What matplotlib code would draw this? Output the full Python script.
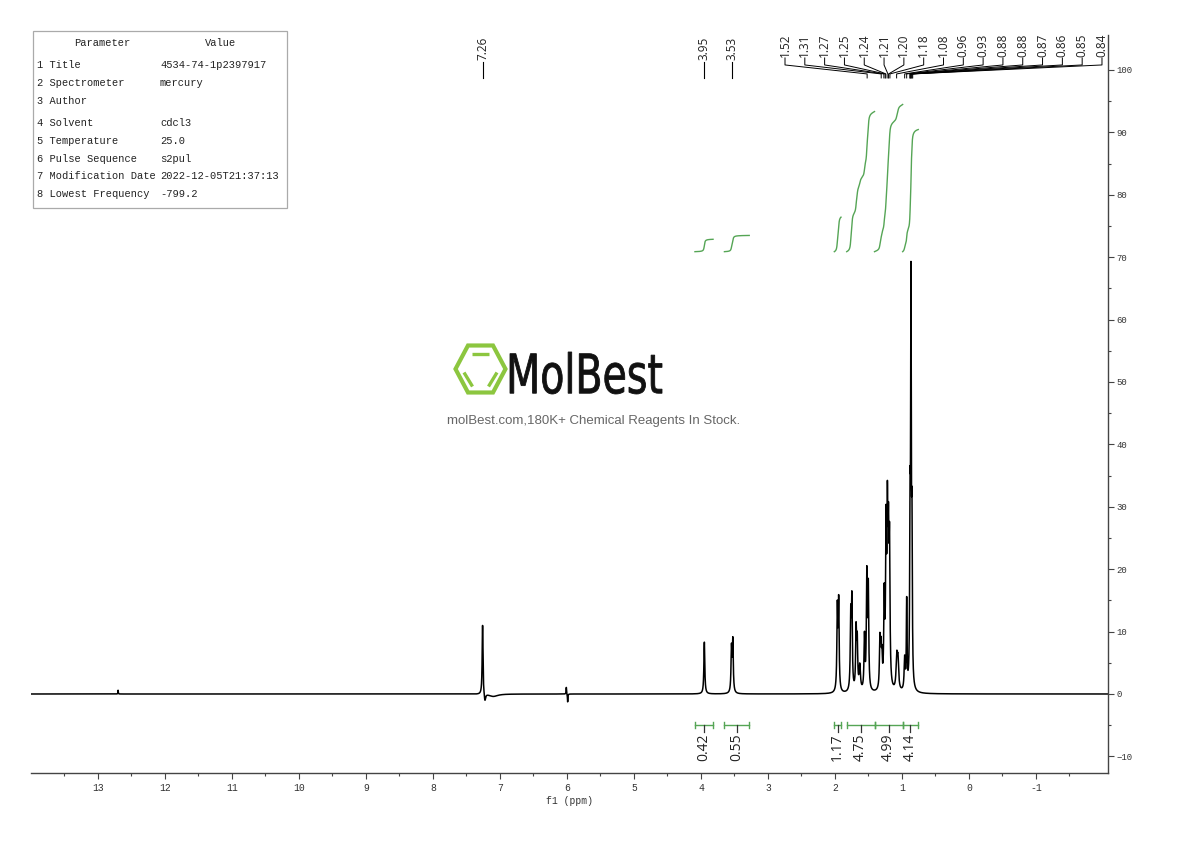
import numpy as np
import matplotlib
matplotlib.use("Agg")
import matplotlib.pyplot as plt
from matplotlib.patches import Rectangle, Polygon, PathPatch
from matplotlib.textpath import TextPath
from matplotlib.font_manager import FontProperties
from matplotlib.transforms import Affine2D

# ---------------- data ----------------
peak_ppm = [7.26, 3.95, 3.545, 3.525, 1.965, 1.945, 1.765, 1.748, 1.685, 1.668,
            1.630, 1.560, 1.525, 1.503, 1.330, 1.315, 1.300, 1.265, 1.238, 1.218,
            1.202, 1.186, 1.078, 1.060, 0.960, 0.930, 0.880, 0.866, 0.851]
peak_height = [11.2, 8.3, 7.0, 8.2, 13.0, 14.0, 11.5, 14.0, 9.5, 7.5,
               4.0, 8.5, 18.0, 16.0, 7.5, 5.5, 4.5, 14.0, 24.0, 25.0,
               20.0, 21.0, 5.0, 4.5, 5.0, 14.0, 25.0, 62.0, 23.0]
peak_hwhm = [0.007, 0.008, 0.008, 0.008, 0.008, 0.008, 0.008, 0.008, 0.008, 0.008,
             0.012, 0.008, 0.008, 0.008, 0.008, 0.008, 0.008, 0.008, 0.008, 0.008,
             0.008, 0.008, 0.012, 0.012, 0.009, 0.006, 0.006, 0.006, 0.006]

artifact_ppm = [7.225, 7.10, 6.01, 5.99, 12.70]
artifact_height = [-1.3, -0.4, 1.1, -1.3, 0.6]
artifact_hwhm = [0.012, 0.08, 0.004, 0.004, 0.003]

single_labels = ["7.26", "3.95", "3.53"]
single_ppm = [7.26, 3.95, 3.53]
cluster_labels = ["1.52", "1.31", "1.27", "1.25", "1.24", "1.21", "1.20", "1.18", "1.08",
                  "0.96", "0.93", "0.88", "0.88", "0.87", "0.86", "0.85", "0.84"]
cluster_ppm = [1.52, 1.31, 1.27, 1.25, 1.24, 1.21, 1.20, 1.18, 1.08,
               0.96, 0.93, 0.88, 0.88, 0.87, 0.86, 0.85, 0.84]

integral_from = [4.09, 3.65, 2.01, 1.825, 1.41, 0.99]
integral_to = [3.82, 3.28, 1.91, 1.41, 0.99, 0.757]
integral_values = [0.42, 0.55, 1.17, 4.75, 4.99, 4.14]

x_ticks = list(range(13, -2, -1))
y_ticks = list(range(-10, 101, 10))

param_names = ["1 Title", "2 Spectrometer", "3 Author", "4 Solvent", "5 Temperature",
               "6 Pulse Sequence", "7 Modification Date", "8 Lowest Frequency"]
param_values = ["4534-74-1p2397917", "mercury", "", "cdcl3", "25.0", "s2pul",
                "2022-12-05T21:37:13", "-799.2"]

# ---------------- figure ----------------
W, H = 1190, 841
fig = plt.figure(figsize=(W / 100, H / 100), dpi=100)
fig.patch.set_facecolor("white")

ax_l, ax_r, ax_t, ax_b = 31, 1108, 35, 773
ax = fig.add_axes([ax_l / W, 1 - ax_b / H, (ax_r - ax_l) / W, (ax_b - ax_t) / H])
ax.set_xlim(14.0, -2.075)
ax.set_ylim(-12.66, 105.6)

ppm = np.linspace(14.0, -2.075, 60000)
spec = np.zeros_like(ppm)
for p, h, w in zip(peak_ppm + artifact_ppm, peak_height + artifact_height,
                   peak_hwhm + artifact_hwhm):
    spec += h * w ** 2 / ((ppm - p) ** 2 + w ** 2)
ax.plot(ppm, spec, color="black", lw=1.1)

# integral curves and brackets
green = "#55a555"
int_base, int_scale = 70.88, 4.727
for a, b, v in zip(integral_from, integral_to, integral_values):
    m = (ppm <= a) & (ppm >= b)
    cum = np.cumsum(spec[m])
    cum = cum - cum[0]
    ax.plot(ppm[m], int_base + v * int_scale * cum / cum[-1], color=green, lw=1.0)
    yb = -4.97
    ax.plot([a, b], [yb, yb], color=green, lw=1.0, clip_on=False)
    for e in (a, b):
        ax.plot([e, e], [yb - 0.5, yb + 0.5], color=green, lw=1.0, clip_on=False)
    mid = (a + b) / 2
    ax.plot([mid, mid], [yb, -6.09], color="#333333", lw=0.9, clip_on=False)
    ax.text(mid, -6.35, f"{v:.2f}", rotation=90, ha="center", va="top",
            fontsize=10, family="Open Sans", color="#222222", clip_on=False)

# peak labels
lab_font = dict(rotation=90, ha="center", va="bottom", fontsize=8.5,
                family="Open Sans", color="#222222")
for s, p in zip(single_labels, single_ppm):
    ax.plot([p, p], [98.72, 101.28], color="black", lw=0.8, clip_on=False)
    ax.text(p, 101.6, s, **lab_font)

lab_start, lab_step = 2.746, 0.2957
for i, (s, p) in enumerate(zip(cluster_labels, cluster_ppm)):
    lx = lab_start - i * lab_step
    ax.plot([lx, lx, p, p], [101.92, 100.80, 99.36, 98.72], color="black",
            lw=0.7, clip_on=False)
    ax.text(lx, 102.0, s, **lab_font)

# axes styling
for sp in ("top", "left"):
    ax.spines[sp].set_visible(False)
for sp in ("right", "bottom"):
    ax.spines[sp].set_color("#444444")
    ax.spines[sp].set_linewidth(1.0)
ax.yaxis.tick_right()
ax.set_yticks(y_ticks)
ax.set_yticks(np.arange(-10, 101, 5), minor=True)
ax.set_xticks(x_ticks)
ax.set_xticks(np.arange(13.5, -2, -1.0), minor=True)
ax.set_xticklabels([str(t) for t in x_ticks])
ax.tick_params(axis="both", which="major", length=4, width=0.8, color="#444444",
               labelsize=7, pad=3)
ax.tick_params(axis="both", which="minor", length=2.5, width=0.8, color="#444444")
ax.tick_params(axis="y", labelsize=6.5, pad=2)
for lab in ax.get_xticklabels() + ax.get_yticklabels():
    lab.set_family("Liberation Mono")
    lab.set_color("#333333")
ax.set_xlabel("f1 (ppm)", family="Liberation Mono", fontsize=7, labelpad=2,
              color="#333333")
ax.patch.set_alpha(0)

# ---------------- overlay (table + watermark) ----------------
ov = fig.add_axes([0, 0, 1, 1])
ov.set_xlim(0, W)
ov.set_ylim(H, 0)
ov.axis("off")
ov.patch.set_alpha(0)

ov.add_patch(Rectangle((33, 31), 254, 177, fill=False, edgecolor="#aaaaaa", lw=0.9))
tf = dict(family="Liberation Mono", fontsize=7.5, color="#222222", va="center")
ov.text(102, 43, "Parameter", ha="center", **tf)
ov.text(221, 43, "Value", ha="center", **tf)
row_y = [65, 83, 101, 123, 141, 159, 176, 194]
for yy, n, v in zip(row_y, param_names, param_values):
    ov.text(37, yy, n, ha="left", **tf)
    ov.text(160, yy, v, ha="left", **tf)

# logo hexagon
lg = "#8cc63f"
hexv = [(455.5, 369), (468, 345.5), (493, 345.5), (505.5, 369), (493, 392.5), (468, 392.5)]
ov.add_patch(Polygon(hexv, closed=True, fill=False, edgecolor=lg, lw=3.0, joinstyle="miter"))
ov.plot([472, 489], [354, 354], color=lg, lw=2.4, solid_capstyle="butt")
ov.plot([464, 472.5], [372.5, 386.5], color=lg, lw=2.4, solid_capstyle="butt")
ov.plot([497, 488.5], [372.5, 386.5], color=lg, lw=2.4, solid_capstyle="butt")

tp = TextPath((0, 0), "MolBest", size=100, prop=FontProperties(family="DejaVu Sans"))
bb = tp.get_extents()
bx0, by0, bx1, by1 = 510, 352, 662, 394
tr = (Affine2D().translate(-bb.x0, -bb.y0)
      .scale((bx1 - bx0) / bb.width, -(by1 - by0) / bb.height)
      .translate(bx0, by1))
ov.add_patch(PathPatch(tr.transform_path(tp), facecolor="#111111", edgecolor="#111111", lw=0.6))
ov.text(594, 421, "molBest.com,180K+ Chemical Reagents In Stock.", ha="center",
        va="center", family="Liberation Sans", fontsize=9.5, color="#666666")

fig.savefig("out.png", dpi=100, facecolor="white")
